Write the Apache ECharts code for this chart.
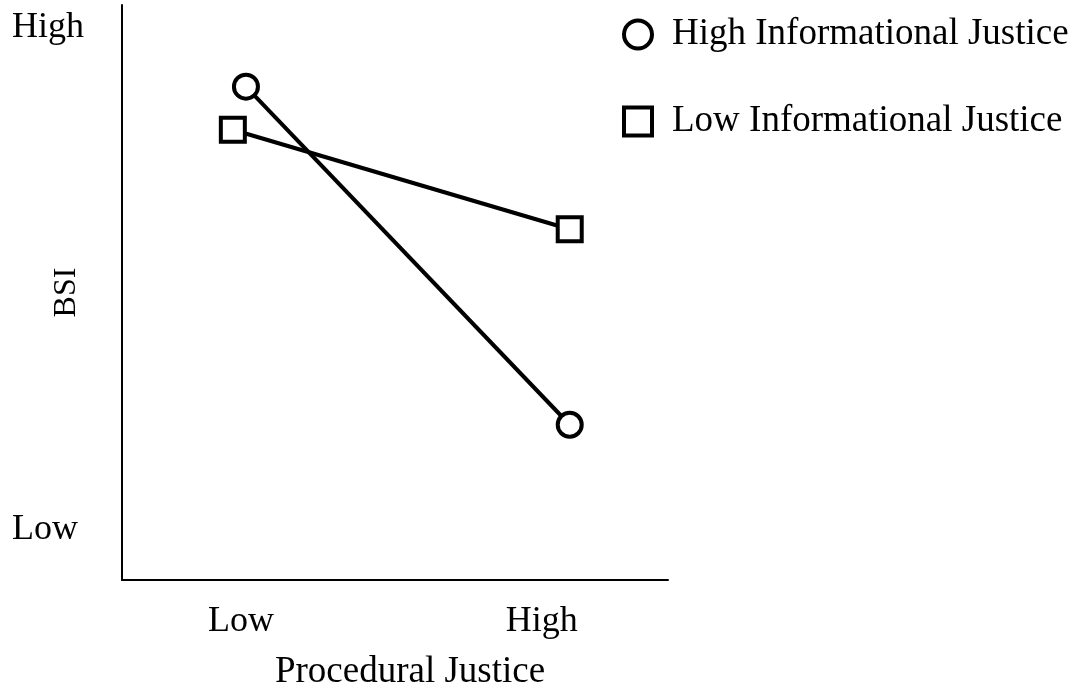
<!DOCTYPE html>
<html>
<head>
<meta charset="utf-8">
<script src="https://cdn.jsdelivr.net/npm/echarts@6/dist/echarts.min.js"></script>
<style>html,body{margin:0;padding:0;background:#fff}#c{width:1078px;height:688px}</style>
</head>
<body>
<div id="c"></div>
<script>
// Data
var seriesNames = ['High Informational Justice', 'Low Informational Justice'];
var highInfoX = [22.7, 82.0];
var highInfoY = [85.8, 27.0];
var lowInfoX = [20.3, 82.0];
var lowInfoY = [78.3, 61.0];
var xTickValues = [21.8, 76.9];
var xTickLabels = ['Low', 'High'];
var yTickValues = [8.7, 96.0];
var yTickLabels = ['Low', 'High'];
var xAxisTitle = 'Procedural Justice';
var yAxisTitle = 'BSI';

function pairs(xs, ys) { return xs.map(function (x, i) { return [x, ys[i]]; }); }
function labelFor(values, labels) {
  return function (v) {
    for (var i = 0; i < values.length; i++) if (Math.abs(values[i] - v) < 1e-6) return labels[i];
    return '';
  };
}

var FONT = 'Liberation Serif';
var chart = echarts.init(document.getElementById('c'), null, { renderer: 'canvas' });
var markerStyle = { color: '#fff', borderColor: '#000', borderWidth: 4 };
chart.setOption({
  animation: false,
  backgroundColor: '#fff',
  textStyle: { fontFamily: FONT, color: '#000' },
  grid: { left: 122, right: 410, top: 5, bottom: 108, containLabel: false, outerBoundsMode: 'none' },
  legend: {
    orient: 'vertical',
    left: 617,
    top: 11,
    itemWidth: 28,
    itemHeight: 28,
    itemGap: 50,
    textStyle: { fontFamily: FONT, fontSize: 37, color: '#000', padding: [0, 0, 0, 15] },
    data: [
      { name: seriesNames[0], icon: 'circle', itemStyle: markerStyle },
      { name: seriesNames[1], icon: 'rect', itemStyle: markerStyle }
    ]
  },
  xAxis: {
    type: 'value', min: 0, max: 100,
    name: xAxisTitle, nameLocation: 'middle', nameGap: 74, nameMoveOverlap: false,
    nameTextStyle: { fontFamily: FONT, fontSize: 37, color: '#000', padding: [0, 0, 0, 30] },
    axisLine: { show: true, lineStyle: { color: '#000', width: 2 } },
    axisTick: { show: false },
    splitLine: { show: false },
    axisLabel: {
      customValues: xTickValues,
      formatter: labelFor(xTickValues, xTickLabels),
      fontFamily: FONT, fontSize: 36, color: '#000', margin: 24
    }
  },
  yAxis: {
    type: 'value', min: 0, max: 100,
    name: yAxisTitle, nameLocation: 'middle', nameGap: 39, nameMoveOverlap: false,
    nameTextStyle: { fontFamily: FONT, fontSize: 32, color: '#000' },
    axisLine: { show: true, lineStyle: { color: '#000', width: 2 } },
    axisTick: { show: false },
    splitLine: { show: false },
    axisLabel: {
      customValues: yTickValues,
      formatter: labelFor(yTickValues, yTickLabels),
      fontFamily: FONT, fontSize: 36, color: '#000', margin: 110, align: 'left'
    }
  },
  series: [
    {
      name: seriesNames[0], type: 'line', data: pairs(highInfoX, highInfoY),
      symbol: 'circle', symbolSize: 24, z: 3,
      lineStyle: { color: '#000', width: 4 },
      itemStyle: markerStyle
    },
    {
      name: seriesNames[1], type: 'line', data: pairs(lowInfoX, lowInfoY),
      symbol: 'rect', symbolSize: 24, z: 2,
      lineStyle: { color: '#000', width: 4 },
      itemStyle: markerStyle
    }
  ]
});
</script>
</body>
</html>
